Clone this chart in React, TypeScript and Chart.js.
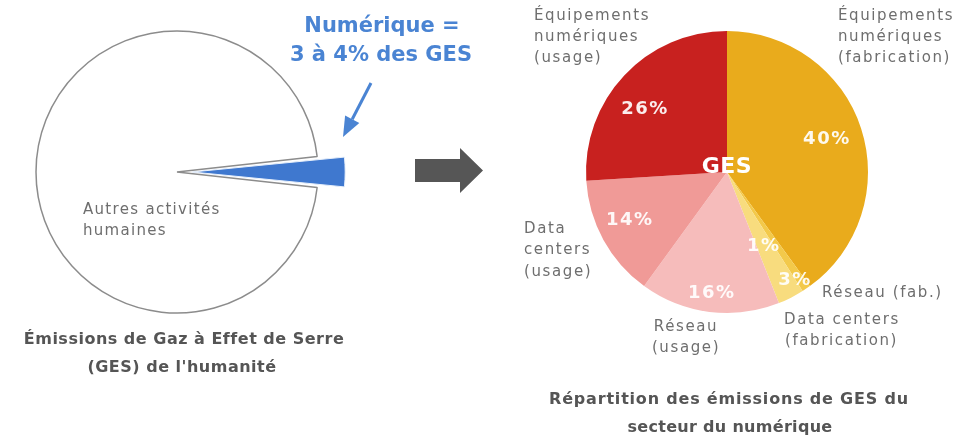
import React, { useEffect, useRef } from "react";
import { Chart, registerables } from "chart.js";
Chart.register(...registerables);

const W = 960;
const H = 446;

// ---- data ----
const leftLabels = ["Numérique", "Autres activités humaines"];
const leftValues = [3.5, 96.5];

const rightLabels = [
  "Équipements numériques (fabrication)",
  "Réseau (fabrication)",
  "Data centers (fabrication)",
  "Réseau (usage)",
  "Data centers (usage)",
  "Équipements numériques (usage)",
];
const rightValues = [40, 1, 3, 16, 14, 26];

// ---- styles ----
const leftColors = ["#3f78cf", "#ffffff"];
const leftBorders = ["#e8f0fb", "#8c8c8c"];
const rightColors = ["#e9ab1c", "#f3c94a", "#f8dc7e", "#f6bcbb", "#f09a97", "#c8211f"];
// label placement: [angle nudge (deg), radius fraction]
const pctPlacement: [number, number][] = [
  [0, 0.745],
  [8, 0.59],
  [-5, 0.91],
  [0, 0.865],
  [2.5, 0.77],
  [-6, 0.73],
];

const GREY = "#6e6e6e";
const DARK = "#555555";
const BLUE = "#4a84d3";
const FONT = "'DejaVu Sans'";

function txt(
  ctx: CanvasRenderingContext2D,
  s: string,
  x: number,
  y: number,
  font: string,
  color: string,
  align: CanvasTextAlign = "left",
  spacing = "0px"
) {
  ctx.save();
  ctx.font = font;
  ctx.fillStyle = color;
  ctx.textAlign = align;
  ctx.textBaseline = "middle";
  (ctx as any).letterSpacing = spacing;
  ctx.fillText(s, x, y);
  ctx.restore();
}

const annotations = {
  id: "annotations",
  afterDatasetsDraw(chart: any) {
    const ctx: CanvasRenderingContext2D = chart.ctx;
    // percentage labels on right pie
    const meta = chart.getDatasetMeta(0);
    meta.data.forEach((arc: any, i: number) => {
      const { x, y, startAngle, endAngle, outerRadius } = arc.getProps(
        ["x", "y", "startAngle", "endAngle", "outerRadius"],
        true
      );
      const [nudge, frac] = pctPlacement[i];
      const a = (startAngle + endAngle) / 2 + (nudge * Math.PI) / 180;
      const r = outerRadius * frac;
      txt(
        ctx,
        `${rightValues[i]}%`,
        x + r * Math.cos(a),
        y + r * Math.sin(a),
        `bold 18px ${FONT}`,
        "rgba(255,255,255,0.92)",
        "center",
        "1.5px"
      );
    });
    const c = meta.data[0].getProps(["x", "y"], true);
    txt(ctx, "GES", c.x, c.y - 5, `bold 22px ${FONT}`, "#ffffff", "center", "0.5px");

    const lf = `15px ${FONT}`;
    const sp = "1.6px";
    // right pie labels
    txt(ctx, "Équipements", 534, 16, lf, GREY, "left", sp);
    txt(ctx, "numériques", 534, 37, lf, GREY, "left", sp);
    txt(ctx, "(usage)", 534, 58, lf, GREY, "left", sp);
    txt(ctx, "Équipements", 838, 16, lf, GREY, "left", sp);
    txt(ctx, "numériques", 838, 37, lf, GREY, "left", sp);
    txt(ctx, "(fabrication)", 838, 58, lf, GREY, "left", sp);
    txt(ctx, "Data", 524, 229, lf, GREY, "left", sp);
    txt(ctx, "centers", 524, 250, lf, GREY, "left", sp);
    txt(ctx, "(usage)", 524, 272, lf, GREY, "left", sp);
    txt(ctx, "Réseau", 686, 327, lf, GREY, "center", sp);
    txt(ctx, "(usage)", 686, 348, lf, GREY, "center", sp);
    txt(ctx, "Réseau (fab.)", 822, 293, lf, GREY, "left", sp);
    txt(ctx, "Data centers", 784, 320, lf, GREY, "left", sp);
    txt(ctx, "(fabrication)", 785, 341, lf, GREY, "left", sp);

    const tf = `bold 16px ${FONT}`;
    txt(ctx, "Répartition des émissions de GES du", 729, 400, tf, DARK, "center", "0.8px");
    txt(ctx, "secteur du numérique", 730, 428, tf, DARK, "center", "0.3px");

    // left side texts
    txt(ctx, "Autres activités", 83, 210, lf, GREY, "left", "1.3px");
    txt(ctx, "humaines", 83, 231, lf, GREY, "left", "1.3px");
    txt(ctx, "Émissions de Gaz à Effet de Serre", 184, 340, tf, DARK, "center", "0.5px");
    txt(ctx, "(GES) de l'humanité", 182, 368, tf, DARK, "center", "0.5px");

    txt(ctx, "Numérique =", 382, 27, `bold 21px ${FONT}`, BLUE, "center");
    txt(ctx, "3 à 4% des GES", 381, 56, `bold 21px ${FONT}`, BLUE, "center");

    // blue arrow
    ctx.save();
    ctx.strokeStyle = BLUE;
    ctx.fillStyle = BLUE;
    ctx.lineWidth = 3;
    const x0 = 371, y0 = 83, x1 = 343, y1 = 137;
    const ang = Math.atan2(y1 - y0, x1 - x0);
    const hl = 20, hw = 8;
    const bx = x1 - hl * Math.cos(ang), by = y1 - hl * Math.sin(ang);
    ctx.beginPath();
    ctx.moveTo(x0, y0);
    ctx.lineTo(bx, by);
    ctx.stroke();
    ctx.beginPath();
    ctx.moveTo(x1, y1);
    ctx.lineTo(bx + hw * Math.sin(ang), by - hw * Math.cos(ang));
    ctx.lineTo(bx - hw * Math.sin(ang), by + hw * Math.cos(ang));
    ctx.closePath();
    ctx.fill();
    ctx.restore();

    // grey block arrow
    ctx.save();
    ctx.fillStyle = "#565656";
    ctx.beginPath();
    ctx.moveTo(415, 159);
    ctx.lineTo(460, 159);
    ctx.lineTo(460, 148);
    ctx.lineTo(483, 170.5);
    ctx.lineTo(460, 193);
    ctx.lineTo(460, 182);
    ctx.lineTo(415, 182);
    ctx.closePath();
    ctx.fill();
    ctx.restore();
  },
};

export default function App() {
  const leftRef = useRef<HTMLCanvasElement>(null);
  const rightRef = useRef<HTMLCanvasElement>(null);

  useEffect(() => {
    document.body.style.margin = "0";
    const left = new Chart(leftRef.current!, {
      type: "pie",
      data: {
        labels: leftLabels,
        datasets: [
          {
            data: leftValues,
            backgroundColor: leftColors,
            borderColor: leftBorders,
            borderWidth: [1, 1.5],
            offset: [61, 0],
          },
        ],
      },
      options: {
        responsive: false,
        animation: false,
        events: [],
        radius: 141,
        rotation: 90 - ((leftValues[0] / 100) * 360) / 2,
        layout: { padding: { left: 0, right: W - 354, top: 0, bottom: H - 344 } },
        plugins: { legend: { display: false }, tooltip: { enabled: false } },
      } as any,
    });
    const right = new Chart(rightRef.current!, {
      type: "pie",
      data: {
        labels: rightLabels,
        datasets: [
          {
            data: rightValues,
            backgroundColor: rightColors,
            borderWidth: 0,
          },
        ],
      },
      options: {
        responsive: false,
        animation: false,
        events: [],
        radius: 141,
        layout: { padding: { left: 586, right: W - 868, top: 30, bottom: H - 314 } },
        plugins: { legend: { display: false }, tooltip: { enabled: false } },
      } as any,
      plugins: [annotations],
    });
    return () => {
      left.destroy();
      right.destroy();
    };
  }, []);

  return (
    <div style={{ position: "relative", width: W, height: H, background: "#ffffff" }}>
      <canvas ref={leftRef} width={W} height={H} style={{ position: "absolute", left: 0, top: 0 }} />
      <canvas ref={rightRef} width={W} height={H} style={{ position: "absolute", left: 0, top: 0 }} />
    </div>
  );
}
